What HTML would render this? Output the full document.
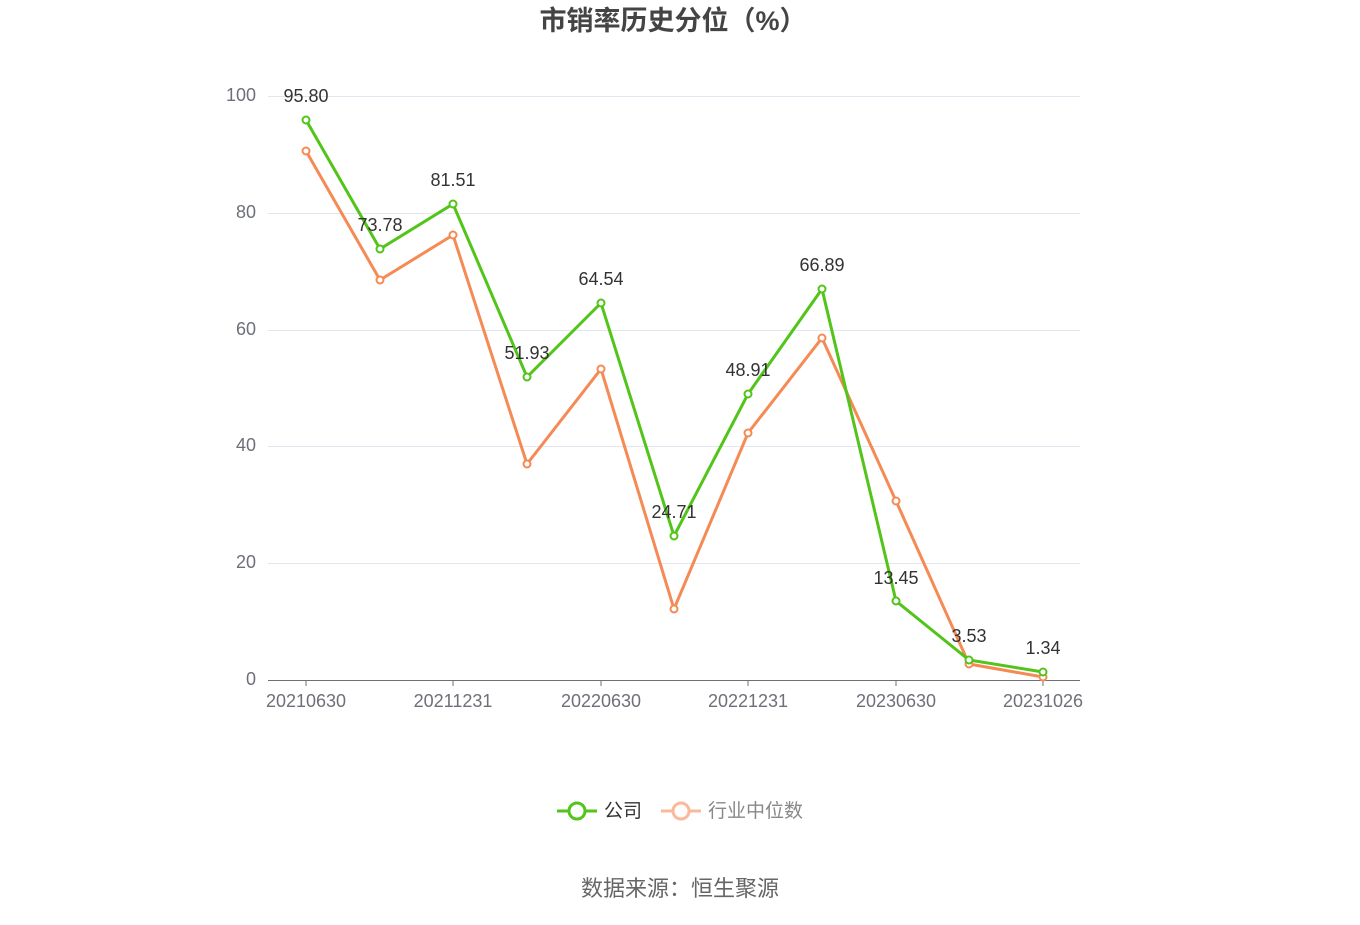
<!DOCTYPE html>
<html><head><meta charset="utf-8"><style>
body{margin:0;background:#fff;}
svg text{font-family:"Liberation Sans","Noto Sans CJK SC",sans-serif;}
</style></head><body>
<svg width="1360" height="920" xmlns="http://www.w3.org/2000/svg">
<text x="673" y="30" text-anchor="middle" font-size="27" font-weight="bold" fill="#444">市销率历史分位（%）</text>
<g stroke="#e3e6ee" stroke-width="1">
<line x1="268" x2="1080" y1="96.5" y2="96.5"/>
<line x1="268" x2="1080" y1="213.5" y2="213.5"/>
<line x1="268" x2="1080" y1="330.5" y2="330.5"/>
<line x1="268" x2="1080" y1="446.5" y2="446.5"/>
<line x1="268" x2="1080" y1="563.5" y2="563.5"/>
</g>
<line x1="268" x2="1080" y1="680.5" y2="680.5" stroke="#6e7079"/>
<g stroke="#6e7079">
<line x1="306" x2="306" y1="680" y2="686"/><line x1="453" x2="453" y1="680" y2="686"/><line x1="601" x2="601" y1="680" y2="686"/><line x1="748" x2="748" y1="680" y2="686"/><line x1="896" x2="896" y1="680" y2="686"/><line x1="1043" x2="1043" y1="680" y2="686"/>
</g>
<g font-size="18" fill="#6e7079" text-anchor="end">
<text x="256" y="101">100</text><text x="256" y="218">80</text><text x="256" y="335">60</text><text x="256" y="451">40</text><text x="256" y="568">20</text><text x="256" y="685">0</text>
</g>
<g font-size="18" fill="#6e7079" text-anchor="middle">
<text x="306" y="707">20210630</text><text x="453" y="707">20211231</text><text x="601" y="707">20220630</text><text x="748" y="707">20221231</text><text x="896" y="707">20230630</text><text x="1043" y="707">20231026</text>
</g>
<polyline fill="none" stroke="#f58a55" stroke-width="3" points="306,151 380,280 453,235 527,464 601,369 674,609 748,433 822,338 896,501 969,664 1043,677"/>
<g fill="#fff" stroke="#f58a55" stroke-width="2">
<circle cx="306" cy="151" r="3.5"/><circle cx="380" cy="280" r="3.5"/><circle cx="453" cy="235" r="3.5"/><circle cx="527" cy="464" r="3.5"/><circle cx="601" cy="369" r="3.5"/><circle cx="674" cy="609" r="3.5"/><circle cx="748" cy="433" r="3.5"/><circle cx="822" cy="338" r="3.5"/><circle cx="896" cy="501" r="3.5"/><circle cx="969" cy="664" r="3.5"/><circle cx="1043" cy="677" r="3.5"/>
</g>
<polyline fill="none" stroke="#52c41a" stroke-width="3" points="306,120 380,249 453,204 527,377 601,303 674,536 748,394 822,289 896,601 969,660 1043,672"/>
<g fill="#fff" stroke="#52c41a" stroke-width="2">
<circle cx="306" cy="120" r="3.5"/><circle cx="380" cy="249" r="3.5"/><circle cx="453" cy="204" r="3.5"/><circle cx="527" cy="377" r="3.5"/><circle cx="601" cy="303" r="3.5"/><circle cx="674" cy="536" r="3.5"/><circle cx="748" cy="394" r="3.5"/><circle cx="822" cy="289" r="3.5"/><circle cx="896" cy="601" r="3.5"/><circle cx="969" cy="660" r="3.5"/><circle cx="1043" cy="672" r="3.5"/>
</g>
<g font-size="18" fill="#333" text-anchor="middle">
<text x="306" y="102">95.80</text><text x="380" y="231">73.78</text><text x="453" y="186">81.51</text><text x="527" y="359">51.93</text><text x="601" y="285">64.54</text><text x="674" y="518">24.71</text><text x="748" y="376">48.91</text><text x="822" y="271">66.89</text><text x="896" y="584">13.45</text><text x="969" y="642">3.53</text><text x="1043" y="654">1.34</text>
</g>
<line x1="557" x2="597" y1="811" y2="811" stroke="#52c41a" stroke-width="3"/>
<circle cx="577" cy="811" r="8" fill="#fff" stroke="#52c41a" stroke-width="3"/>
<text x="604" y="817" font-size="19" fill="#333">公司</text>
<line x1="661" x2="701" y1="811" y2="811" stroke="#fbb89a" stroke-width="3"/>
<circle cx="681" cy="811" r="8" fill="#fff" stroke="#fbb89a" stroke-width="3"/>
<text x="708" y="817" font-size="19" fill="#888">行业中位数</text>
<text x="680" y="896" text-anchor="middle" font-size="22" fill="#666">数据来源：恒生聚源</text>
</svg>
</body></html>
